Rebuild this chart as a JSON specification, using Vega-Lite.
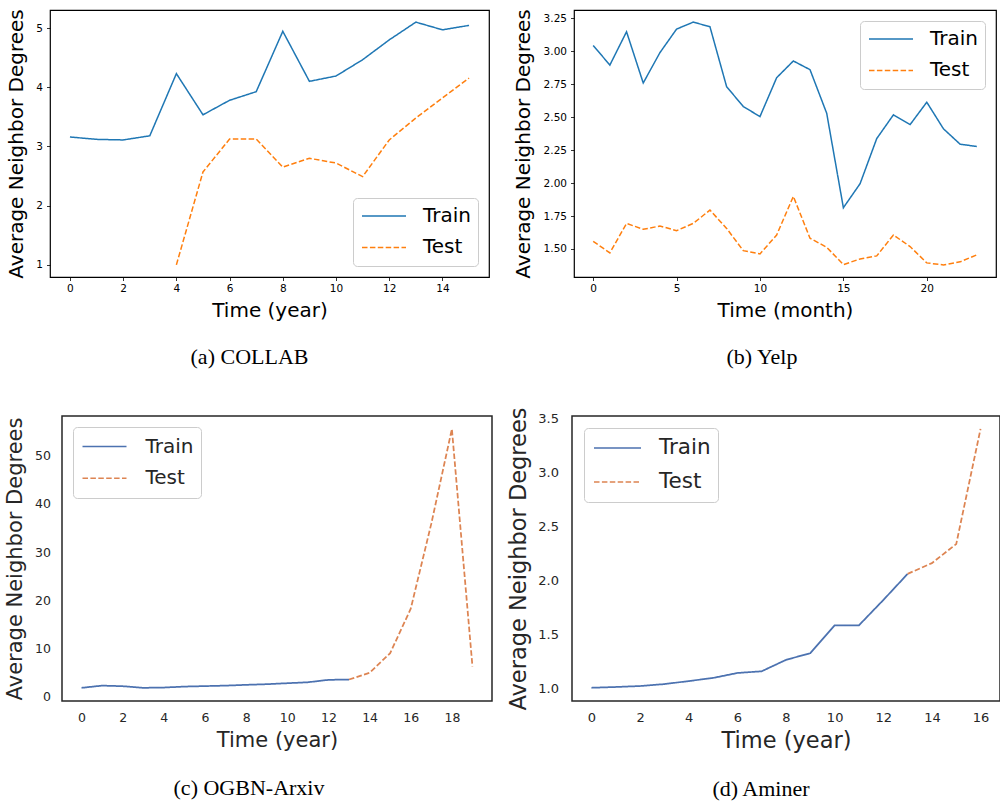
{
  "$schema": "https://vega.github.io/schema/vega-lite/v6.json",
  "background": "white",
  "padding": {"left": 3, "top": 8, "right": 0, "bottom": 0},
  "config": {
    "font": "DejaVu Sans",
    "axis": {"domain": false, "grid": false, "labelFont": "DejaVu Sans", "titleFont": "DejaVu Sans", "titleFontWeight": "normal", "labelFlush": false, "labelOverlap": false},
    "legend": {"symbolType": "stroke", "labelFont": "DejaVu Sans", "strokeColor": "#cccccc", "fillColor": "white", "cornerRadius": 4, "symbolStrokeWidth": 1.5},
    "title": {"font": "Liberation Serif", "fontSize": 22, "fontWeight": "normal", "color": "black", "orient": "bottom", "anchor": "middle", "frame": "group"}
  },
  "datasets": {
    "collab": [
      {"t": 0, "v": 3.16, "s": "Train"}, {"t": 1, "v": 3.12, "s": "Train"}, {"t": 2, "v": 3.11, "s": "Train"}, {"t": 3, "v": 3.18, "s": "Train"},
      {"t": 4, "v": 4.23, "s": "Train"}, {"t": 5, "v": 3.535, "s": "Train"}, {"t": 6, "v": 3.78, "s": "Train"}, {"t": 7, "v": 3.925, "s": "Train"},
      {"t": 8, "v": 4.945, "s": "Train"}, {"t": 9, "v": 4.10, "s": "Train"}, {"t": 10, "v": 4.19, "s": "Train"}, {"t": 11, "v": 4.465, "s": "Train"},
      {"t": 12, "v": 4.80, "s": "Train"}, {"t": 13, "v": 5.10, "s": "Train"}, {"t": 14, "v": 4.97, "s": "Train"}, {"t": 15, "v": 5.045, "s": "Train"},
      {"t": 4, "v": 1.0, "s": "Test"}, {"t": 5, "v": 2.57, "s": "Test"}, {"t": 6, "v": 3.125, "s": "Test"}, {"t": 7, "v": 3.125, "s": "Test"},
      {"t": 8, "v": 2.65, "s": "Test"}, {"t": 9, "v": 2.80, "s": "Test"}, {"t": 10, "v": 2.72, "s": "Test"}, {"t": 11, "v": 2.49, "s": "Test"},
      {"t": 12, "v": 3.11, "s": "Test"}, {"t": 13, "v": 3.48, "s": "Test"}, {"t": 14, "v": 3.82, "s": "Test"}, {"t": 15, "v": 4.155, "s": "Test"}
    ],
    "yelp": [
      {"t": 0, "v": 3.045, "s": "Train"}, {"t": 1, "v": 2.896, "s": "Train"}, {"t": 2, "v": 3.149, "s": "Train"}, {"t": 3, "v": 2.76, "s": "Train"},
      {"t": 4, "v": 2.99, "s": "Train"}, {"t": 5, "v": 3.169, "s": "Train"}, {"t": 6, "v": 3.222, "s": "Train"}, {"t": 7, "v": 3.187, "s": "Train"},
      {"t": 8, "v": 2.732, "s": "Train"}, {"t": 9, "v": 2.581, "s": "Train"}, {"t": 10, "v": 2.505, "s": "Train"}, {"t": 11, "v": 2.80, "s": "Train"},
      {"t": 12, "v": 2.927, "s": "Train"}, {"t": 13, "v": 2.861, "s": "Train"}, {"t": 14, "v": 2.53, "s": "Train"}, {"t": 15, "v": 1.813, "s": "Train"},
      {"t": 16, "v": 1.995, "s": "Train"}, {"t": 17, "v": 2.338, "s": "Train"}, {"t": 18, "v": 2.518, "s": "Train"}, {"t": 19, "v": 2.444, "s": "Train"},
      {"t": 20, "v": 2.614, "s": "Train"}, {"t": 21, "v": 2.412, "s": "Train"}, {"t": 22, "v": 2.295, "s": "Train"}, {"t": 23, "v": 2.278, "s": "Train"},
      {"t": 0, "v": 1.558, "s": "Test"}, {"t": 1, "v": 1.47, "s": "Test"}, {"t": 2, "v": 1.694, "s": "Test"}, {"t": 3, "v": 1.649, "s": "Test"},
      {"t": 4, "v": 1.674, "s": "Test"}, {"t": 5, "v": 1.639, "s": "Test"}, {"t": 6, "v": 1.694, "s": "Test"}, {"t": 7, "v": 1.795, "s": "Test"},
      {"t": 8, "v": 1.656, "s": "Test"}, {"t": 9, "v": 1.487, "s": "Test"}, {"t": 10, "v": 1.462, "s": "Test"}, {"t": 11, "v": 1.606, "s": "Test"},
      {"t": 12, "v": 1.899, "s": "Test"}, {"t": 13, "v": 1.581, "s": "Test"}, {"t": 14, "v": 1.513, "s": "Test"}, {"t": 15, "v": 1.381, "s": "Test"},
      {"t": 16, "v": 1.424, "s": "Test"}, {"t": 17, "v": 1.447, "s": "Test"}, {"t": 18, "v": 1.606, "s": "Test"}, {"t": 19, "v": 1.518, "s": "Test"},
      {"t": 20, "v": 1.394, "s": "Test"}, {"t": 21, "v": 1.379, "s": "Test"}, {"t": 22, "v": 1.402, "s": "Test"}, {"t": 23, "v": 1.455, "s": "Test"}
    ],
    "arxiv": [
      {"t": 0, "v": 1.74, "s": "Train"}, {"t": 1, "v": 2.2, "s": "Train"}, {"t": 2, "v": 2.08, "s": "Train"}, {"t": 3, "v": 1.74, "s": "Train"},
      {"t": 4, "v": 1.8, "s": "Train"}, {"t": 5, "v": 2.0, "s": "Train"}, {"t": 6, "v": 2.1, "s": "Train"}, {"t": 7, "v": 2.2, "s": "Train"},
      {"t": 8, "v": 2.36, "s": "Train"}, {"t": 9, "v": 2.5, "s": "Train"}, {"t": 10, "v": 2.7, "s": "Train"}, {"t": 11, "v": 2.9, "s": "Train"},
      {"t": 12, "v": 3.4, "s": "Train"}, {"t": 13, "v": 3.47, "s": "Train"},
      {"t": 13, "v": 3.47, "s": "Test"}, {"t": 14, "v": 4.86, "s": "Test"}, {"t": 15, "v": 8.96, "s": "Test"}, {"t": 16, "v": 18.2, "s": "Test"},
      {"t": 17, "v": 35.9, "s": "Test"}, {"t": 18, "v": 55.6, "s": "Test"}, {"t": 19, "v": 6.2, "s": "Test"}
    ],
    "aminer": [
      {"t": 0, "v": 1.003, "s": "Train"}, {"t": 1, "v": 1.01, "s": "Train"}, {"t": 2, "v": 1.019, "s": "Train"}, {"t": 3, "v": 1.037, "s": "Train"},
      {"t": 4, "v": 1.065, "s": "Train"}, {"t": 5, "v": 1.094, "s": "Train"}, {"t": 6, "v": 1.14, "s": "Train"}, {"t": 7, "v": 1.156, "s": "Train"},
      {"t": 8, "v": 1.262, "s": "Train"}, {"t": 9, "v": 1.324, "s": "Train"}, {"t": 10, "v": 1.583, "s": "Train"}, {"t": 11, "v": 1.583, "s": "Train"},
      {"t": 12, "v": 1.817, "s": "Train"}, {"t": 13, "v": 2.06, "s": "Train"},
      {"t": 13, "v": 2.06, "s": "Test"}, {"t": 14, "v": 2.16, "s": "Test"}, {"t": 15, "v": 2.337, "s": "Test"}, {"t": 16, "v": 3.406, "s": "Test"}
    ]
  },
  "spacing": 37,
  "resolve": {"scale": {"color": "independent", "strokeDash": "independent"}, "legend": {"color": "independent", "strokeDash": "independent"}},
  "vconcat": [
    {
      "bounds": "flush",
      "spacing": 85,
      "resolve": {"scale": {"color": "independent", "strokeDash": "independent"}, "legend": {"color": "independent", "strokeDash": "independent"}},
      "hconcat": [
        {
          "width": 439, "height": 267,
          "view": {"stroke": "#000000", "strokeWidth": 1.2},
          "title": {"text": "(a) COLLAB", "dx": -20, "offset": 27},
          "data": {"name": "collab"},
          "mark": {"type": "line", "strokeWidth": 1.5},
          "encoding": {
            "x": {"field": "t", "type": "quantitative", "scale": {"domain": [-0.75, 15.75], "nice": false, "zero": false},
                  "axis": {"values": [0, 2, 4, 6, 8, 10, 12, 14], "title": "Time (year)", "titleFontSize": 20, "titleColor": "black", "titlePadding": 6, "labelFontSize": 10.5, "labelColor": "black", "labelPadding": 3, "tickSize": 3.5, "tickColor": "black", "tickWidth": 0.8}},
            "y": {"field": "v", "type": "quantitative", "scale": {"domain": [0.795, 5.305], "nice": false, "zero": false},
                  "axis": {"values": [1, 2, 3, 4, 5], "title": "Average Neighbor Degrees", "titleFontSize": 20, "titleColor": "black", "titlePadding": 9, "labelFontSize": 10.5, "labelColor": "black", "labelPadding": 4, "tickSize": 3.5, "tickColor": "black", "tickWidth": 0.8}},
            "color": {"field": "s", "type": "nominal", "scale": {"domain": ["Train", "Test"], "range": ["#1f77b4", "#ff7f0e"]},
                      "legend": {"title": null, "orient": "bottom-right", "offset": 11, "labelFontSize": 20, "labelColor": "black", "symbolSize": 1936, "padding": 7, "symbolOffset": 1, "labelOffset": 16, "clipHeight": 22, "rowPadding": 9.4}},
            "strokeDash": {"field": "s", "type": "nominal", "scale": {"domain": ["Train", "Test"], "range": [[1, 0], [5.5, 2.4]]},
                      "legend": {"title": null, "orient": "bottom-right", "offset": 11, "labelFontSize": 20, "labelColor": "black", "symbolSize": 1936, "padding": 7, "symbolOffset": 1, "labelOffset": 16, "clipHeight": 22, "rowPadding": 9.4}}
          }
        },
        {
          "width": 422, "height": 267,
          "view": {"stroke": "#000000", "strokeWidth": 1.2},
          "title": {"text": "(b) Yelp", "dx": -23, "offset": 27},
          "data": {"name": "yelp"},
          "mark": {"type": "line", "strokeWidth": 1.5},
          "encoding": {
            "x": {"field": "t", "type": "quantitative", "scale": {"domain": [-1.15, 24.15], "nice": false, "zero": false},
                  "axis": {"values": [0, 5, 10, 15, 20], "title": "Time (month)", "titleFontSize": 20, "titleColor": "black", "titlePadding": 6, "labelFontSize": 10.5, "labelColor": "black", "labelPadding": 3, "tickSize": 3.5, "tickColor": "black", "tickWidth": 0.8}},
            "y": {"field": "v", "type": "quantitative", "scale": {"domain": [1.287, 3.314], "nice": false, "zero": false},
                  "axis": {"values": [1.5, 1.75, 2.0, 2.25, 2.5, 2.75, 3.0, 3.25], "format": ".2f", "title": "Average Neighbor Degrees", "titleFontSize": 20, "titleColor": "black", "titlePadding": 10, "labelFontSize": 10.5, "labelColor": "black", "labelPadding": 4, "tickSize": 3.5, "tickColor": "black", "tickWidth": 0.8}},
            "color": {"field": "s", "type": "nominal", "scale": {"domain": ["Train", "Test"], "range": ["#1f77b4", "#ff7f0e"]},
                      "legend": {"title": null, "orient": "top-right", "offset": 11, "labelFontSize": 20, "labelColor": "black", "symbolSize": 1936, "padding": 7, "symbolOffset": 1, "labelOffset": 16, "clipHeight": 22, "rowPadding": 9.4}},
            "strokeDash": {"field": "s", "type": "nominal", "scale": {"domain": ["Train", "Test"], "range": [[1, 0], [5.5, 2.4]]},
                      "legend": {"title": null, "orient": "top-right", "offset": 11, "labelFontSize": 20, "labelColor": "black", "symbolSize": 1936, "padding": 7, "symbolOffset": 1, "labelOffset": 16, "clipHeight": 22, "rowPadding": 9.4}}
          }
        }
      ]
    },
    {
      "bounds": "flush",
      "spacing": 0,
      "hconcat": [
        {
          "width": 12, "height": 10,
          "view": {"stroke": null},
          "data": {"values": []},
          "mark": "point",
          "encoding": {}
        },
        {
          "bounds": "flush",
          "spacing": 80,
          "resolve": {"scale": {"color": "independent", "strokeDash": "independent"}, "legend": {"color": "independent", "strokeDash": "independent"}},
          "hconcat": [
            {
              "width": 430, "height": 285,
              "view": {"stroke": "#262626", "strokeWidth": 1.5},
              "title": {"text": "(c) OGBN-Arxiv", "dx": -28, "offset": 27},
              "data": {"name": "arxiv"},
              "mark": {"type": "line", "strokeWidth": 1.75},
              "encoding": {
                "x": {"field": "t", "type": "quantitative", "scale": {"domain": [-0.95, 19.95], "nice": false, "zero": false},
                      "axis": {"values": [0, 2, 4, 6, 8, 10, 12, 14, 16, 18], "title": "Time (year)", "titleFontSize": 21, "titleColor": "#262626", "titlePadding": 6, "labelFontSize": 12.5, "labelColor": "#262626", "labelPadding": 10, "ticks": false}},
                "y": {"field": "v", "type": "quantitative", "scale": {"domain": [-1.0, 58.3], "nice": false, "zero": false},
                      "axis": {"values": [0, 10, 20, 30, 40, 50], "title": "Average Neighbor Degrees", "titleFontSize": 21, "titleColor": "#262626", "titlePadding": 9, "labelFontSize": 12.5, "labelColor": "#262626", "labelPadding": 11.5, "ticks": false}},
                "color": {"field": "s", "type": "nominal", "scale": {"domain": ["Train", "Test"], "range": ["#4c72b0", "#dd8452"]},
                          "legend": {"title": null, "orient": "top-left", "offset": 11, "labelFontSize": 20, "labelColor": "#262626", "symbolSize": 1936, "padding": 7, "symbolOffset": 1.5, "labelOffset": 18, "clipHeight": 25, "rowPadding": 6.7}},
                "strokeDash": {"field": "s", "type": "nominal", "scale": {"domain": ["Train", "Test"], "range": [[1, 0], [5.5, 2.4]]},
                          "legend": {"title": null, "orient": "top-left", "offset": 11, "labelFontSize": 20, "labelColor": "#262626", "symbolSize": 1936, "padding": 7, "symbolOffset": 1.5, "labelOffset": 18, "clipHeight": 25, "rowPadding": 6.7}}
              }
            },
            {
              "width": 428, "height": 285,
              "view": {"stroke": "#262626", "strokeWidth": 1.5},
              "title": {"text": "(d) Aminer", "dx": -25, "offset": 27},
              "data": {"name": "aminer"},
              "mark": {"type": "line", "strokeWidth": 1.75},
              "encoding": {
                "x": {"field": "t", "type": "quantitative", "scale": {"domain": [-0.8, 16.8], "nice": false, "zero": false},
                      "axis": {"values": [0, 2, 4, 6, 8, 10, 12, 14, 16], "title": "Time (year)", "titleFontSize": 22.5, "titleColor": "#262626", "titlePadding": 5, "labelFontSize": 13, "labelColor": "#262626", "labelPadding": 10, "ticks": false}},
                "y": {"field": "v", "type": "quantitative", "scale": {"domain": [0.88, 3.526], "nice": false, "zero": false},
                      "axis": {"values": [1.0, 1.5, 2.0, 2.5, 3.0, 3.5], "format": ".1f", "title": "Average Neighbor Degrees", "titleFontSize": 22.5, "titleColor": "#262626", "titlePadding": 7.5, "labelFontSize": 13, "labelColor": "#262626", "labelPadding": 13.5, "ticks": false}},
                "color": {"field": "s", "type": "nominal", "scale": {"domain": ["Train", "Test"], "range": ["#4c72b0", "#dd8452"]},
                          "legend": {"title": null, "orient": "top-left", "offset": 11.7, "labelFontSize": 21.5, "labelColor": "#262626", "symbolSize": 2209, "padding": 7, "symbolOffset": 2, "labelOffset": 17, "clipHeight": 26, "rowPadding": 8}},
                "strokeDash": {"field": "s", "type": "nominal", "scale": {"domain": ["Train", "Test"], "range": [[1, 0], [5.5, 2.4]]},
                          "legend": {"title": null, "orient": "top-left", "offset": 11.7, "labelFontSize": 21.5, "labelColor": "#262626", "symbolSize": 2209, "padding": 7, "symbolOffset": 2, "labelOffset": 17, "clipHeight": 26, "rowPadding": 8}}
              }
            }
          ]
        }
      ]
    }
  ]
}
